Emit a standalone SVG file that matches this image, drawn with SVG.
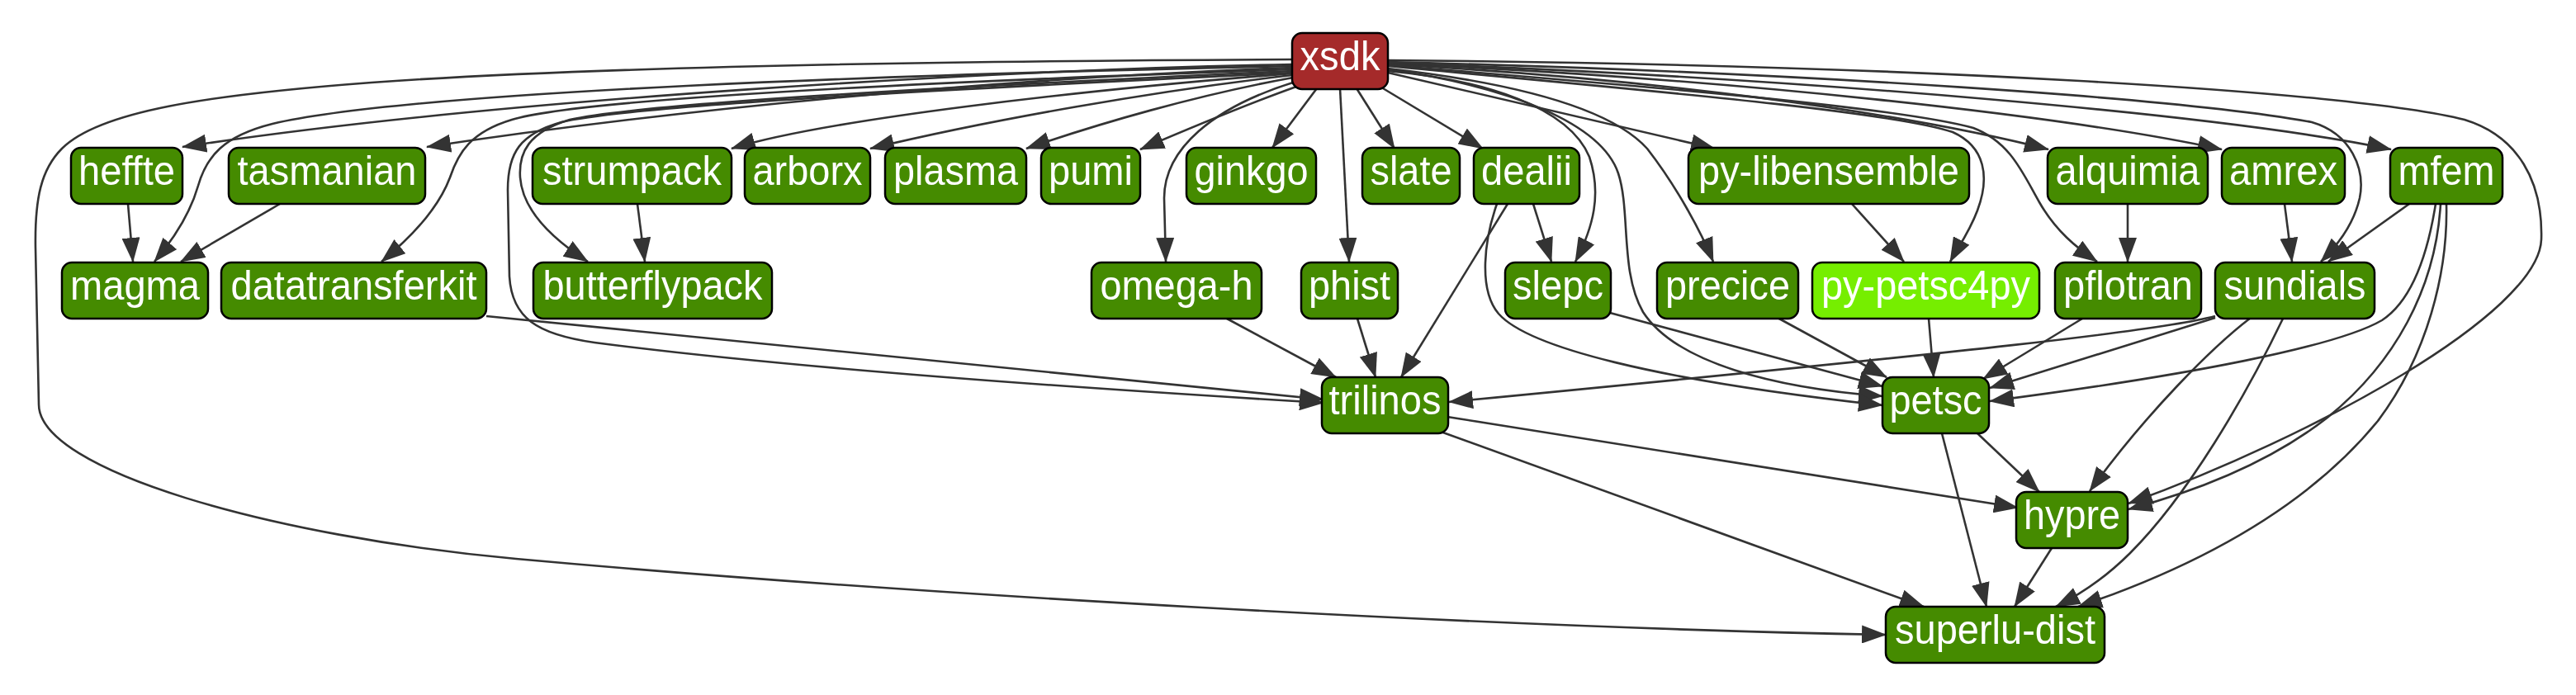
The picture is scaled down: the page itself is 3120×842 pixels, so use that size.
<svg xmlns="http://www.w3.org/2000/svg" width="3120" height="842" viewBox="0 0 3120 842">
<style>
.e{fill:none;stroke:#333333;stroke-width:2.6;marker-end:url(#ah)}
.n rect{fill:#458B00;stroke:#000;stroke-width:2.5}
.n text{fill:#fff;font-family:"Liberation Sans",Arial,sans-serif;font-size:50px;text-anchor:middle}
#xsdk rect{fill:#A52A2A}
#py-petsc4py rect{fill:#76EE00}
</style>
<defs>
<marker id="ah" viewBox="0 0 30 22" refX="29" refY="11" markerWidth="30" markerHeight="22" markerUnits="userSpaceOnUse" orient="auto"><path d="M0,0 L30,11 L0,22 Z" fill="#333333"/></marker>
</defs>
<rect width="3120" height="842" fill="#fff"/>
<g id="edges">
<path class="e" d="M1565,72 C1100,74 700,82 450,100 C250,115 120,135 75,180 C50,205 42,240 43,300 L47,490 C47,570 330,650 625,677 C1100,720 1800,760 2284,769"/>
<path class="e" d="M1565,78 C1200,85 600,120 221,178"/>
<path class="e" d="M1565,80 C1100,90 500,110 330,150 C270,165 250,190 240,225 C230,260 210,290 187,317"/>
<path class="e" d="M1565,82 C1200,95 800,135 517,178"/>
<path class="e" d="M1565,84 C1100,100 700,120 620,145 C570,160 555,185 545,215 C530,255 495,290 462,317"/>
<path class="e" d="M1565,86 C1150,105 780,125 690,145 C640,160 628,185 630,215 C633,255 670,290 712,317"/>
<path class="e" d="M1565,88 C1150,108 760,128 680,148 C630,162 615,185 615,230 L617,335 C620,385 650,405 720,415 C950,445 1300,470 1603,488"/>
<path class="e" d="M1565,89 C1300,110 1000,145 886,180"/>
<path class="e" d="M1565,91 C1400,110 1200,145 1054,180"/>
<path class="e" d="M1566,94 C1450,115 1330,150 1243,180"/>
<path class="e" d="M1570,105 C1500,130 1430,160 1381,181"/>
<path class="e" d="M1595,107 L1541,179"/>
<path class="e" d="M1566,100 C1470,130 1410,180 1410,240 L1412,317"/>
<path class="e" d="M1623,107 L1634,317"/>
<path class="e" d="M1643,107 L1689,180"/>
<path class="e" d="M1675,107 L1796,180"/>
<path class="e" d="M1681,88 L2077,180"/>
<path class="e" d="M1681,86 C1800,97 1900,130 1925,190 C1940,235 1930,275 1908,317"/>
<path class="e" d="M1681,84 C1830,105 1940,150 1960,210 C1975,255 1962,330 1990,378 C2030,440 2150,470 2280,480"/>
<path class="e" d="M1681,83 C1830,100 1950,130 1995,180 C2030,225 2060,280 2075,317"/>
<path class="e" d="M1681,80 C2000,110 2290,135 2365,160 C2405,178 2410,215 2395,255 C2385,282 2370,302 2362,317"/>
<path class="e" d="M1681,79 C2000,105 2300,130 2390,155 C2435,172 2450,210 2470,245 C2490,280 2515,300 2540,317"/>
<path class="e" d="M1681,78 C2000,95 2300,135 2481,181"/>
<path class="e" d="M1681,77 C2100,95 2500,140 2691,181"/>
<path class="e" d="M1681,76 C2200,95 2700,140 2896,181"/>
<path class="e" d="M1681,75 C2200,88 2650,120 2800,148 C2848,162 2865,205 2858,240 C2850,275 2828,300 2811,317"/>
<path class="e" d="M1681,73 C2300,78 2850,110 2985,145 C3050,165 3080,220 3078,290 C3075,380 2800,530 2578,610"/>
<path class="e" d="M155,247 L161,317"/>
<path class="e" d="M339,247 L219,317"/>
<path class="e" d="M772,247 L781,317"/>
<path class="e" d="M589,383 L1603,484"/>
<path class="e" d="M1486,386 L1618,457"/>
<path class="e" d="M1644,386 L1666,457"/>
<path class="e" d="M1826,247 L1697,457"/>
<path class="e" d="M1857,247 L1879,317"/>
<path class="e" d="M1813,247 C1798,290 1790,350 1815,380 C1850,420 2000,460 2280,491"/>
<path class="e" d="M1950,379 L2280,468"/>
<path class="e" d="M2153,385 L2285,457"/>
<path class="e" d="M2243,247 L2306,317"/>
<path class="e" d="M2336,386 L2342,457"/>
<path class="e" d="M2522,386 L2402,459"/>
<path class="e" d="M2577,247 L2577,317"/>
<path class="e" d="M2767,247 L2776,317"/>
<path class="e" d="M2918,247 L2820,317"/>
<path class="e" d="M2683,383 C2620,400 2400,425 1755,487"/>
<path class="e" d="M2683,385 L2410,470"/>
<path class="e" d="M2950,247 C2940,310 2920,365 2885,388 C2830,420 2650,455 2410,486"/>
<path class="e" d="M2956,247 C2950,350 2900,440 2820,505 C2750,560 2660,595 2578,617"/>
<path class="e" d="M2963,247 C2965,330 2940,430 2880,510 C2790,620 2650,690 2517,735"/>
<path class="e" d="M2726,385 C2680,420 2600,500 2531,595"/>
<path class="e" d="M2765,386 C2720,480 2650,600 2580,670 C2550,700 2520,720 2490,735"/>
<path class="e" d="M2395,525 L2470,596"/>
<path class="e" d="M2352,525 L2406,735"/>
<path class="e" d="M1753,505 L2444,615"/>
<path class="e" d="M1745,523 L2330,735"/>
<path class="e" d="M2485,664 L2440,735"/>
</g>
<g id="xsdk" class="n"><rect x="1565" y="40" width="116" height="68" rx="12"/><text x="1623" y="85" textLength="97" lengthAdjust="spacingAndGlyphs">xsdk</text></g>
<g id="heffte" class="n"><rect x="86" y="179" width="135" height="68" rx="12"/><text x="153.5" y="224" textLength="117" lengthAdjust="spacingAndGlyphs">heffte</text></g>
<g id="tasmanian" class="n"><rect x="277" y="179" width="238" height="68" rx="12"/><text x="396" y="224" textLength="217" lengthAdjust="spacingAndGlyphs">tasmanian</text></g>
<g id="strumpack" class="n"><rect x="645" y="179" width="241" height="68" rx="12"/><text x="765.5" y="224" textLength="217" lengthAdjust="spacingAndGlyphs">strumpack</text></g>
<g id="arborx" class="n"><rect x="902" y="179" width="152" height="68" rx="12"/><text x="978" y="224" textLength="133" lengthAdjust="spacingAndGlyphs">arborx</text></g>
<g id="plasma" class="n"><rect x="1072" y="179" width="171" height="68" rx="12"/><text x="1157.5" y="224" textLength="151" lengthAdjust="spacingAndGlyphs">plasma</text></g>
<g id="pumi" class="n"><rect x="1261" y="179" width="120" height="68" rx="12"/><text x="1321" y="224" textLength="102" lengthAdjust="spacingAndGlyphs">pumi</text></g>
<g id="ginkgo" class="n"><rect x="1437" y="179" width="157" height="68" rx="12"/><text x="1515.5" y="224" textLength="138" lengthAdjust="spacingAndGlyphs">ginkgo</text></g>
<g id="slate" class="n"><rect x="1650" y="179" width="118" height="68" rx="12"/><text x="1709" y="224" textLength="99" lengthAdjust="spacingAndGlyphs">slate</text></g>
<g id="dealii" class="n"><rect x="1785" y="179" width="128" height="68" rx="12"/><text x="1849" y="224" textLength="110" lengthAdjust="spacingAndGlyphs">dealii</text></g>
<g id="py-libensemble" class="n"><rect x="2045" y="179" width="340" height="68" rx="12"/><text x="2215" y="224" textLength="316" lengthAdjust="spacingAndGlyphs">py-libensemble</text></g>
<g id="alquimia" class="n"><rect x="2480" y="179" width="194" height="68" rx="12"/><text x="2577" y="224" textLength="175" lengthAdjust="spacingAndGlyphs">alquimia</text></g>
<g id="amrex" class="n"><rect x="2691" y="179" width="149" height="68" rx="12"/><text x="2765.5" y="224" textLength="131" lengthAdjust="spacingAndGlyphs">amrex</text></g>
<g id="mfem" class="n"><rect x="2895" y="179" width="136" height="68" rx="12"/><text x="2963" y="224" textLength="117" lengthAdjust="spacingAndGlyphs">mfem</text></g>
<g id="magma" class="n"><rect x="75" y="318" width="177" height="68" rx="12"/><text x="163.5" y="363" textLength="157" lengthAdjust="spacingAndGlyphs">magma</text></g>
<g id="datatransferkit" class="n"><rect x="268" y="318" width="321" height="68" rx="12"/><text x="428.5" y="363" textLength="298" lengthAdjust="spacingAndGlyphs">datatransferkit</text></g>
<g id="butterflypack" class="n"><rect x="646" y="318" width="289" height="68" rx="12"/><text x="790.5" y="363" textLength="266" lengthAdjust="spacingAndGlyphs">butterflypack</text></g>
<g id="omega-h" class="n"><rect x="1322" y="318" width="206" height="68" rx="12"/><text x="1425" y="363" textLength="185" lengthAdjust="spacingAndGlyphs">omega-h</text></g>
<g id="phist" class="n"><rect x="1576" y="318" width="117" height="68" rx="12"/><text x="1634.5" y="363" textLength="99" lengthAdjust="spacingAndGlyphs">phist</text></g>
<g id="slepc" class="n"><rect x="1823" y="318" width="128" height="68" rx="12"/><text x="1887" y="363" textLength="110" lengthAdjust="spacingAndGlyphs">slepc</text></g>
<g id="precice" class="n"><rect x="2007" y="318" width="171" height="68" rx="12"/><text x="2092.5" y="363" textLength="151" lengthAdjust="spacingAndGlyphs">precice</text></g>
<g id="py-petsc4py" class="n"><rect x="2195" y="318" width="275" height="68" rx="12"/><text x="2332.5" y="363" textLength="253" lengthAdjust="spacingAndGlyphs">py-petsc4py</text></g>
<g id="pflotran" class="n"><rect x="2489" y="318" width="177" height="68" rx="12"/><text x="2577.5" y="363" textLength="157" lengthAdjust="spacingAndGlyphs">pflotran</text></g>
<g id="sundials" class="n"><rect x="2683" y="318" width="193" height="68" rx="12"/><text x="2779.5" y="363" textLength="172" lengthAdjust="spacingAndGlyphs">sundials</text></g>
<g id="trilinos" class="n"><rect x="1601" y="457" width="153" height="68" rx="12"/><text x="1677.5" y="502" textLength="136" lengthAdjust="spacingAndGlyphs">trilinos</text></g>
<g id="petsc" class="n"><rect x="2280" y="457" width="129" height="68" rx="12"/><text x="2344.5" y="502" textLength="112" lengthAdjust="spacingAndGlyphs">petsc</text></g>
<g id="hypre" class="n"><rect x="2442" y="596" width="135" height="68" rx="12"/><text x="2509.5" y="641" textLength="117" lengthAdjust="spacingAndGlyphs">hypre</text></g>
<g id="superlu-dist" class="n"><rect x="2284" y="735" width="265" height="68" rx="12"/><text x="2416.5" y="780" textLength="243" lengthAdjust="spacingAndGlyphs">superlu-dist</text></g>
</svg>
